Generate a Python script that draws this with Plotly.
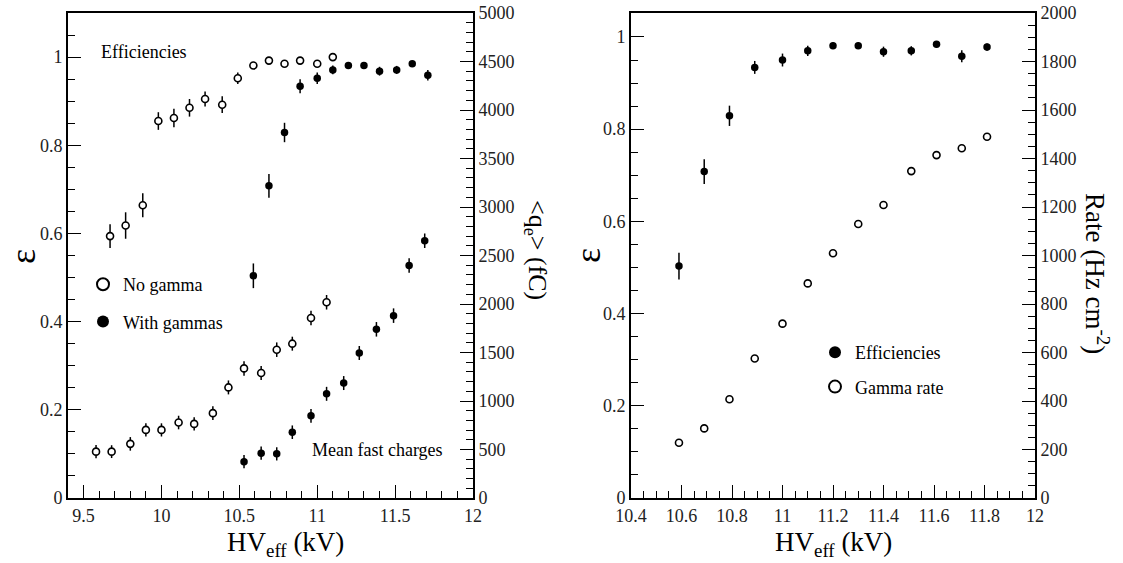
import plotly.graph_objects as go

W, H = 1123, 563

# ---------------- Left panel data ----------------
hv_eff_nogamma = [9.67, 9.77, 9.88, 9.98, 10.08, 10.18, 10.28, 10.39, 10.49, 10.59, 10.69, 10.79, 10.89, 11.00, 11.10]
eff_nogamma = [0.594, 0.618, 0.664, 0.855, 0.862, 0.885, 0.905, 0.892, 0.952, 0.981, 0.992, 0.985, 0.992, 0.985, 1.000]
eff_nogamma_err = [0.027, 0.030, 0.027, 0.020, 0.021, 0.020, 0.017, 0.019, 0.013, 0.006, 0.005, 0.005, 0.005, 0.005, 0.004]

hv_eff_gamma = [10.59, 10.69, 10.79, 10.89, 11.00, 11.10, 11.20, 11.30, 11.40, 11.51, 11.61, 11.71]
eff_gamma = [0.504, 0.708, 0.829, 0.934, 0.952, 0.971, 0.981, 0.981, 0.968, 0.971, 0.985, 0.959]
eff_gamma_err = [0.028, 0.027, 0.022, 0.016, 0.013, 0.010, 0.006, 0.006, 0.010, 0.009, 0.006, 0.012]

hv_q_nogamma = [9.58, 9.68, 9.80, 9.90, 10.00, 10.11, 10.21, 10.33, 10.43, 10.53, 10.64, 10.74, 10.84, 10.96, 11.06]
q_nogamma = [478, 478, 558, 702, 702, 778, 764, 875, 1140, 1336, 1288, 1529, 1591, 1856, 2018]
q_nogamma_err = [68, 66, 70, 68, 68, 70, 68, 72, 72, 75, 72, 75, 72, 75, 75]

hv_q_gamma = [10.53, 10.64, 10.74, 10.84, 10.96, 11.06, 11.17, 11.27, 11.38, 11.49, 11.59, 11.69]
q_gamma = [375, 462, 455, 678, 847, 1074, 1185, 1495, 1739, 1880, 2397, 2652]
q_gamma_err = [68, 68, 68, 70, 70, 72, 72, 72, 75, 75, 75, 75]

# ---------------- Right panel data ----------------
hv_right = [10.59, 10.69, 10.79, 10.89, 11.00, 11.10, 11.20, 11.30, 11.40, 11.51, 11.61, 11.71, 11.81]
eff_right = [0.503, 0.708, 0.829, 0.934, 0.950, 0.970, 0.981, 0.981, 0.968, 0.970, 0.984, 0.958, 0.978]
eff_right_err = [0.029, 0.027, 0.022, 0.014, 0.014, 0.011, 0.007, 0.007, 0.011, 0.010, 0.007, 0.013, 0.008]
gamma_rate = [228, 287, 407, 575, 719, 885, 1009, 1130, 1208, 1348, 1414, 1442, 1490]

FONT = "Liberation Serif, Times New Roman, Times, serif"


def px(x):
    return x / W


def py(y):
    return 1 - y / H


def err(arr):
    return dict(type="data", array=arr, visible=True, thickness=1.5, width=0, color="black")


open_marker = dict(symbol="circle", size=7, color="white", line=dict(color="black", width=1.6))
filled_marker = dict(symbol="circle", size=7.5, color="black", line=dict(color="black", width=0))

fig = go.Figure()

# Left panel
fig.add_trace(go.Scatter(x=hv_eff_nogamma, y=eff_nogamma, mode="markers", marker=open_marker,
                         error_y=err(eff_nogamma_err), name="No gamma", xaxis="x", yaxis="y",
                         legend="legend", legendgroup="a"))
fig.add_trace(go.Scatter(x=hv_eff_gamma, y=eff_gamma, mode="markers", marker=filled_marker,
                         error_y=err(eff_gamma_err), name="With gammas", xaxis="x", yaxis="y",
                         legend="legend", legendgroup="b"))
fig.add_trace(go.Scatter(x=hv_q_nogamma, y=q_nogamma, mode="markers", marker=open_marker,
                         error_y=err(q_nogamma_err), showlegend=False, xaxis="x", yaxis="y2"))
fig.add_trace(go.Scatter(x=hv_q_gamma, y=q_gamma, mode="markers", marker=filled_marker,
                         error_y=err(q_gamma_err), showlegend=False, xaxis="x", yaxis="y2"))

# Right panel
fig.add_trace(go.Scatter(x=hv_right, y=eff_right, mode="markers", marker=filled_marker,
                         error_y=err(eff_right_err), name="Efficiencies", xaxis="x2", yaxis="y3",
                         legend="legend2", legendgroup="c"))
fig.add_trace(go.Scatter(x=hv_right, y=gamma_rate, mode="markers", marker=open_marker,
                         name="Gamma rate", xaxis="x2", yaxis="y4",
                         legend="legend2", legendgroup="d"))

tickfont = dict(family=FONT, size=18, color="#222")


def axis(rng, dtick, minor, **kw):
    d = dict(range=rng, dtick=dtick, tick0=0, ticks="inside", ticklen=13, tickwidth=1.2, tickcolor="black",
             minor=dict(dtick=minor, ticks="inside", ticklen=7, tickwidth=1.2, tickcolor="black", showgrid=False),
             showline=True, linewidth=2, linecolor="black", showgrid=False, zeroline=False,
             tickfont=tickfont, fixedrange=True, automargin=False, ticklabeloverflow="allow")
    d.update(kw)
    return d


left_dom = [px(68), px(473)]
right_dom = [px(631), px(1035)]
ydom = [py(498), py(13)]

fig.update_layout(
    template="none",
    width=W, height=H,
    margin=dict(l=0, r=0, t=0, b=0, pad=0, autoexpand=False),
    paper_bgcolor="white", plot_bgcolor="white",
    font=dict(family=FONT, color="black"),
    xaxis=axis([9.4, 12], 0.5, 0.1, domain=left_dom, anchor="y", mirror=True),
    yaxis=axis([0, 1.1], 0.2, 0.05, domain=ydom, anchor="x"),
    yaxis2=axis([0, 5000], 500, 100, overlaying="y", anchor="x", side="right"),
    xaxis2=axis([10.4, 12], 0.2, 0.05, domain=right_dom, anchor="y3", mirror=True),
    yaxis3=axis([0, 1.052], 0.2, 0.05, domain=ydom, anchor="x2"),
    yaxis4=axis([0, 2000], 200, 50, overlaying="y3", anchor="x2", side="right"),
    legend=dict(x=px(83), y=py(266), xanchor="left", yanchor="top", bgcolor="rgba(0,0,0,0)",
                font=dict(family=FONT, size=18, color="black"), itemsizing="constant", tracegroupgap=11),
    legend2=dict(x=px(815), y=py(334), xanchor="left", yanchor="top", bgcolor="rgba(0,0,0,0)",
                 font=dict(family=FONT, size=18, color="black"), itemsizing="constant", tracegroupgap=8),
    showlegend=True,
)

title_font = dict(family=FONT, size=27, color="black")
text_font = dict(family=FONT, size=18, color="black")

annotations = [
    dict(text="Efficiencies", x=px(99), y=py(52), xanchor="left", yanchor="middle", font=text_font),
    dict(text="Mean fast charges", x=px(310), y=py(450), xanchor="left", yanchor="middle", font=text_font),
    dict(text="HV<sub>eff</sub> (kV)", x=px(285), y=py(544), xanchor="center", yanchor="middle", font=title_font),
    dict(text="HV<sub>eff</sub> (kV)", x=px(833), y=py(544), xanchor="center", yanchor="middle", font=title_font),
    dict(text="ε", x=px(23), y=py(256), xanchor="center", yanchor="middle", textangle=-90,
         font=dict(family=FONT, size=36, color="black")),
    dict(text="ε", x=px(588), y=py(256), xanchor="center", yanchor="middle", textangle=-90,
         font=dict(family=FONT, size=36, color="black")),
    dict(text="&lt;q<sub>e</sub>&gt; (fC)", x=px(536), y=py(250), xanchor="center", yanchor="middle",
         textangle=90, font=dict(family=FONT, size=26, color="black")),
    dict(text="Rate (Hz cm<sup>-2</sup>)", x=px(1097), y=py(273), xanchor="center", yanchor="middle",
         textangle=90, font=dict(family=FONT, size=27, color="black")),
]
for a in annotations:
    a.update(xref="paper", yref="paper", showarrow=False)
fig.update_layout(annotations=annotations)

# remove the default 8px page margin so the figure fills the window exactly; hide the modebar
fig.write_html("out.html", config={"displayModeBar": False},
               post_script="document.body.style.margin='0';")
